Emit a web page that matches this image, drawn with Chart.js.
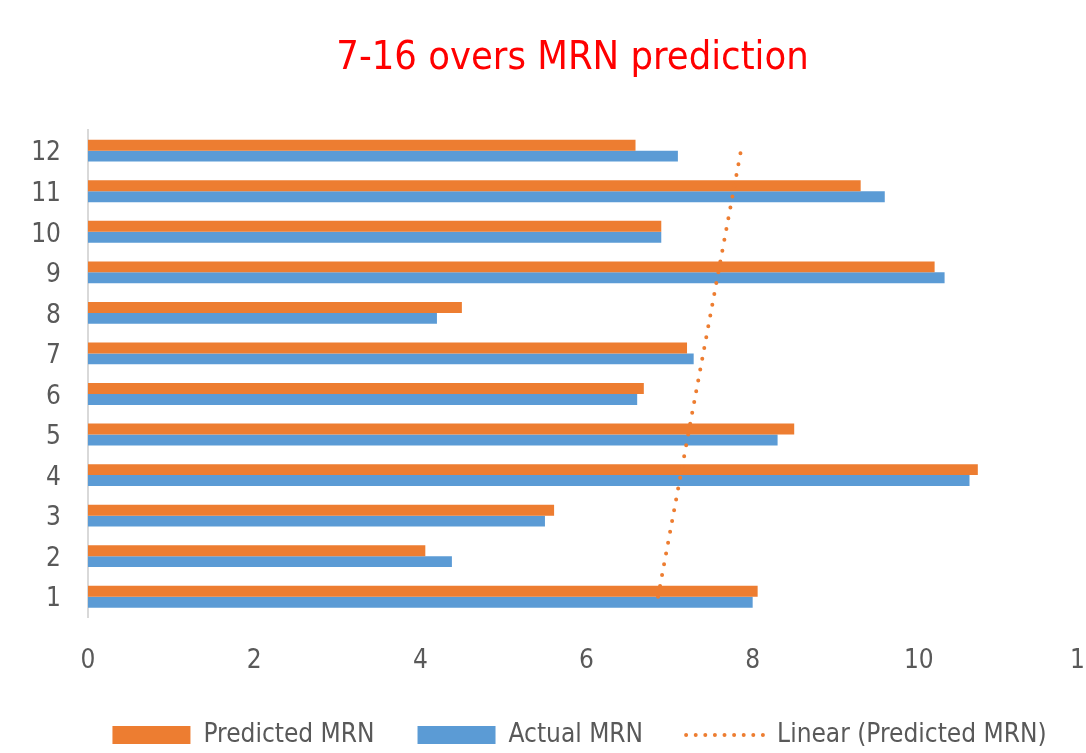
<!DOCTYPE html>
<html>
<head>
<meta charset="utf-8">
<script src="https://cdn.jsdelivr.net/npm/chart.js@4.4.0/dist/chart.umd.min.js"></script>
<style>
  html, body { margin: 0; padding: 0; background: #ffffff; overflow: hidden; width: 1086px; height: 753px; }
  #wrap { position: relative; width: 1152px; height: 758px; }
</style>
</head>
<body>
<div id="wrap"><canvas id="c" width="1152" height="758"></canvas></div>
<script>
const categories = ['1', '2', '3', '4', '5', '6', '7', '8', '9', '10', '11', '12'];
const predictedMRN = [8.06, 4.06, 5.61, 10.71, 8.50, 6.69, 7.21, 4.50, 10.19, 6.90, 9.30, 6.59];
const actualMRN    = [8.00, 4.38, 5.50, 10.61, 8.30, 6.61, 7.29, 4.20, 10.31, 6.90, 9.59, 7.10];
const xTickValues  = [0, 2, 4, 6, 8, 10, 12];
const seriesNames  = ['Predicted MRN', 'Actual MRN', 'Linear (Predicted MRN)'];
const chartTitle   = '7-16 overs MRN prediction';

// Least-squares linear trendline of the predicted series (as Excel's "Linear" trendline)
function linearTrend(ys) {
  const n = ys.length;
  const xs = ys.map((_, i) => i + 1);
  const mx = xs.reduce((a, b) => a + b, 0) / n;
  const my = ys.reduce((a, b) => a + b, 0) / n;
  let num = 0, den = 0;
  for (let i = 0; i < n; i++) { num += (xs[i] - mx) * (ys[i] - my); den += (xs[i] - mx) ** 2; }
  const slope = num / den, icpt = my - slope * mx;
  return xs.map(x => icpt + slope * x);
}
const trendValues = linearTrend(predictedMRN);

const FONT = "'Liberation Sans Narrow', 'DejaVu Sans Condensed', 'Open Sans', sans-serif";
const ORANGE = '#ED7D31', BLUE = '#5B9BD5', GREY = '#595959';

// shift title / legend horizontally to match the reference's centring
const shiftBlocks = {
  id: 'shiftBlocks',
  afterLayout(chart) {
    if (chart.titleBlock) { chart.titleBlock.left += 30; chart.titleBlock.right += 30; }
    if (chart.legend) { chart.legend.left += 37; chart.legend.right += 37; }
  }
};

new Chart(document.getElementById('c'), {
  type: 'bar',
  data: {
    labels: categories,
    datasets: [
      { label: seriesNames[0], data: predictedMRN, backgroundColor: ORANGE, borderWidth: 0,
        categoryPercentage: 0.54, barPercentage: 1.0 },
      { label: seriesNames[1], data: actualMRN, backgroundColor: BLUE, borderWidth: 0,
        categoryPercentage: 0.54, barPercentage: 1.0 },
      { type: 'line', label: seriesNames[2], data: trendValues, indexAxis: 'y',
        borderColor: ORANGE, backgroundColor: ORANGE, borderWidth: 4, borderDash: [0, 11],
        borderCapStyle: 'round', pointRadius: 0, fill: false, order: -1 }
    ]
  },
  plugins: [shiftBlocks],
  options: {
    indexAxis: 'y',
    responsive: false,
    animation: false,
    layout: { padding: { left: 0, right: 67, top: 0, bottom: 0 } },
    plugins: {
      title: {
        display: true, text: chartTitle, color: '#FF0000',
        font: { family: FONT, size: 39.5, weight: 'normal' },
        padding: { top: 35, bottom: 48 }
      },
      legend: {
        position: 'bottom',
        labels: {
          usePointStyle: true, pointStyleWidth: 78, boxHeight: 18, padding: 43,
          color: GREY, font: { family: FONT, size: 26 },
          generateLabels(chart) {
            const items = Chart.defaults.plugins.legend.labels.generateLabels(chart);
            items.sort((a, b) => a.datasetIndex - b.datasetIndex);
            items.forEach(it => {
              const ds = chart.data.datasets[it.datasetIndex];
              if (ds.type === 'line') {
                it.pointStyle = 'line'; it.lineWidth = 4; it.lineDash = [0, 9.6];
                it.lineCap = 'round'; it.strokeStyle = ORANGE; it.fillStyle = 'rgba(0,0,0,0)';
              } else {
                it.pointStyle = 'rect'; it.lineWidth = 0;
              }
            });
            return items;
          }
        }
      },
      tooltip: { enabled: false }
    },
    scales: {
      x: {
        min: 0, max: 12,
        afterBuildTicks(scale) { scale.ticks = xTickValues.map(v => ({ value: v })); },
        ticks: { padding: 29, color: GREY, font: { family: FONT, size: 26 }, maxRotation: 0, autoSkip: false },
        grid: { display: false, drawTicks: false },
        border: { display: false },
        afterFit(scale) { scale.height = 62; }
      },
      y: {
        reverse: true,
        ticks: { padding: 27, labelOffset: 3, color: GREY, font: { family: FONT, size: 26 }, autoSkip: false },
        grid: { display: false, drawTicks: false },
        border: { display: true, color: '#D9D9D9', width: 2 },
        afterFit(scale) { scale.width = 88; }
      }
    }
  }
});
</script>
</body>
</html>
